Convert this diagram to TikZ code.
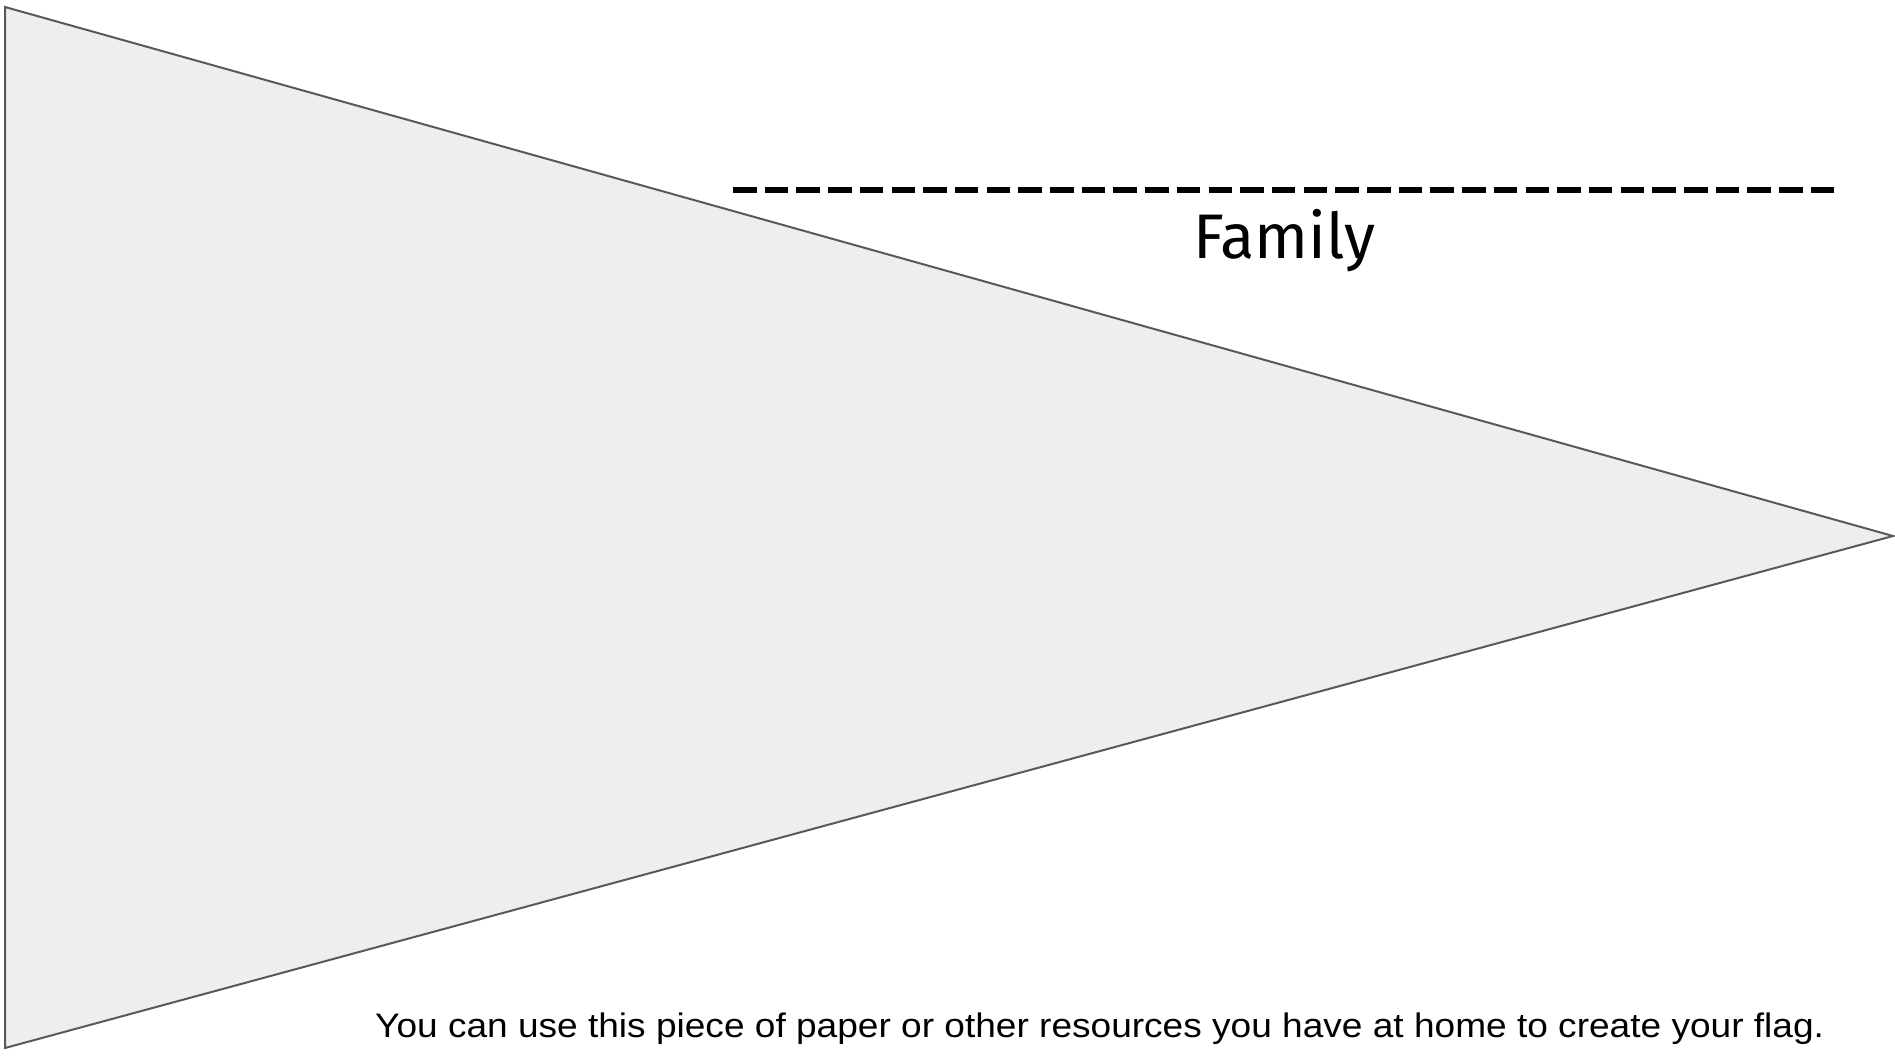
\documentclass[tikz,border=0pt]{standalone}
\usepackage{graphicx}
\usepackage{fontspec}
\setmainfont{Liberation Sans}
\newfontfamily\handfont{Fira Sans}
\definecolor{flagfill}{HTML}{EEEEEE}
\definecolor{flagline}{HTML}{595959}
\begin{document}
\begin{tikzpicture}[x=1pt,y=-1pt,
  flag/.style={fill=flagfill,draw=flagline,line width=2pt,line join=miter},
  writeline/.style={line width=6.5pt,dash pattern=on 23.5pt off 8.2pt},
  title/.style={font=\handfont\fontsize{63}{70}\selectfont,inner sep=0pt,anchor=base west},
  note/.style={font=\fontsize{34}{40}\selectfont,inner sep=0pt,anchor=base west}]
\useasboundingbox (0,0) rectangle (1895,1055);
\coordinate (tl) at (5,7);
\coordinate (bl) at (5,1048);
\coordinate (tip) at (1893,536);
\draw[flag] (tl) -- (tip) -- (bl) -- cycle;
\coordinate (ls) at (733,190);
\coordinate (le) at (1836,190);
\draw[writeline] (ls) -- (le);
\node[title] (fam) at (1193,258) {Family};
\node[note] (msg) at (375,1037) {\scalebox{1.09}[1]{You can use this piece of paper or other resources you have at home to create your flag.}};
\end{tikzpicture}
\end{document}
